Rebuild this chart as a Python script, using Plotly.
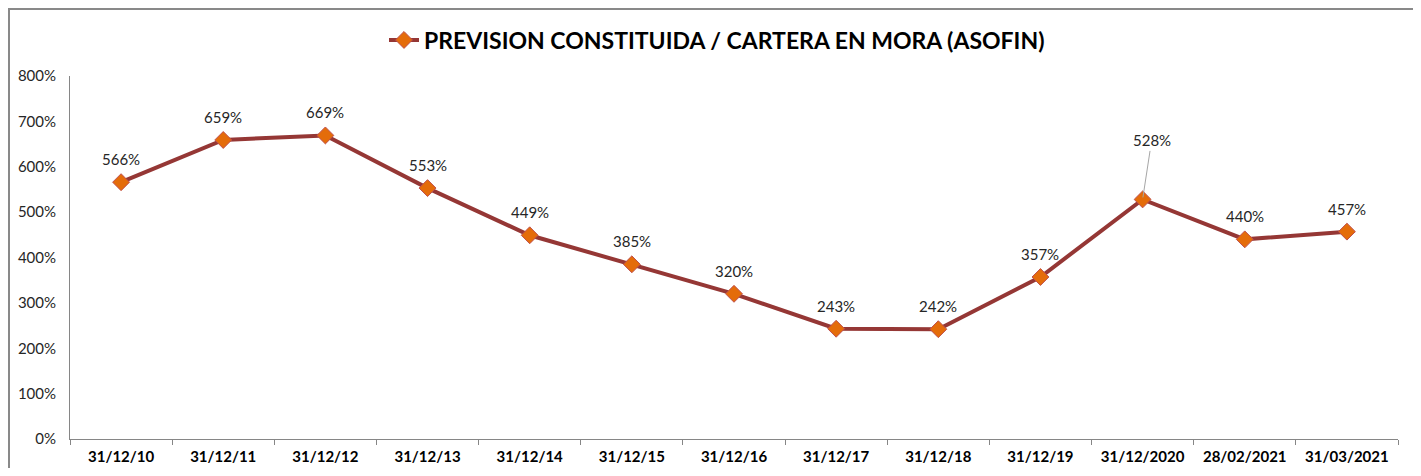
import plotly.graph_objects as go

categories = ["31/12/10", "31/12/11", "31/12/12", "31/12/13", "31/12/14", "31/12/15",
              "31/12/16", "31/12/17", "31/12/18", "31/12/19", "31/12/2020",
              "28/02/2021", "31/03/2021"]
values = [566, 659, 669, 553, 449, 385, 320, 243, 242, 357, 528, 440, 457]
series_name = "PREVISION CONSTITUIDA / CARTERA EN MORA (ASOFIN)"
y_ticks = [0, 100, 200, 300, 400, 500, 600, 700, 800]

# page body has an 8px margin: the figure starts at (8, 8) on screen
OFF = 8
W, H = 1421 - OFF, 476 - 2 * OFF
PL, PR, PT, PB = 70, 1398, 76, 439          # target plot box on screen
ML, MR, MT = PL - OFF, W + OFF - PR, PT - OFF
MB = H + OFF - PB
pw, ph = W - ML - MR, H - MT - MB
FONT = "Lato, sans-serif"

fig = go.Figure()
fig.add_trace(go.Scatter(
    x=categories, y=values, name=series_name, mode="lines+markers",
    line=dict(color="#953735", width=4),
    marker=dict(symbol="diamond", size=13, color="#E46C0A",
                line=dict(color="#C0504D", width=1)),
))

annotations = []
for c, v in zip(categories, values):
    if c == "31/12/2020":
        annotations.append(dict(x=c, y=v, text=f"{v}%", showarrow=True,
                                arrowhead=0, arrowwidth=1, arrowcolor="#A6A6A6",
                                ax=9, ay=-59, standoff=2, startstandoff=0,
                                font=dict(family=FONT, size=15, color="#262626")))
    else:
        annotations.append(dict(x=c, y=v, text=f"{v}%", showarrow=False,
                                yshift=23, font=dict(family=FONT, size=15, color="#262626")))

x0 = (9 - PL) / pw
x1 = (1414 - PL) / pw
y1 = (PB - 9) / ph
fig.add_shape(type="rect", xref="paper", yref="paper", x0=x0, x1=x1, y0=-0.3, y1=y1,
              line=dict(color="#898989", width=2), fillcolor="rgba(0,0,0,0)", layer="below")

fig.update_layout(
    width=W, height=H,
    margin=dict(l=ML, r=MR, t=MT, b=MB, autoexpand=False),
    paper_bgcolor="white", plot_bgcolor="white",
    showlegend=True,
    legend=dict(orientation="h", x=(717 - PL) / pw, xanchor="center",
                y=(PB - 40) / ph, yanchor="middle",
                font=dict(family=FONT, size=23, color="black", weight="bold"),
                itemwidth=30, bgcolor="rgba(0,0,0,0)"),
    annotations=annotations,
    xaxis=dict(type="category", range=[-0.5, len(categories) - 0.5],
               showline=True, linecolor="#868686", linewidth=1,
               ticks="outside", tickson="boundaries", ticklen=5, tickcolor="#868686",
               showgrid=False, ticklabelstandoff=4,
               tickfont=dict(family=FONT, size=15, color="black", weight="bold")),
    yaxis=dict(range=[0, 800], tickvals=y_ticks, ticktext=[f"{t}%" for t in y_ticks],
               showline=True, linecolor="#868686", linewidth=1, showgrid=False,
               zeroline=False, ticks="", ticklabelstandoff=10,
               tickfont=dict(family=FONT, size=15, color="#262626")),
)

fig.write_html("out.html")
